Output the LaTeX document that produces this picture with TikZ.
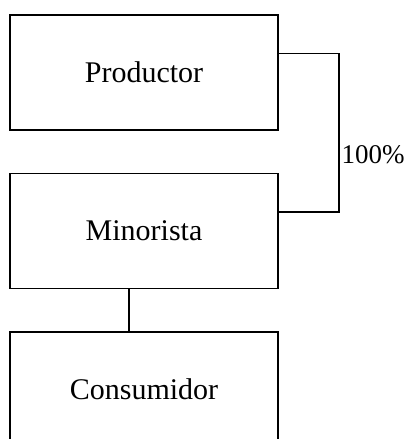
\documentclass[tikz,border=0pt]{standalone}
\usepackage{fontspec}
\setmainfont{Liberation Serif}
\usetikzlibrary{positioning}
\tikzstyle{nivel}=[draw, line width=1.6pt, minimum width=268pt,
    minimum height=115pt, text centered, font=\fontsize{30}{36}\selectfont]
\tikzstyle{enlace}=[line width=1.6pt]

\begin{document}
\begin{tikzpicture}[x=1pt, y=1pt, node distance=42pt]
    \useasboundingbox (0,0) rectangle (408,439);
    \node (prod) [nivel] at (144,366.5) {Productor};
    \node (mino) [nivel, below=of prod] {Minorista};
    \node (cons) [nivel, below=of mino] {Consumidor};
    \coordinate (prodout) at ([yshift=19pt]prod.east);
    \coordinate (minoin) at ([yshift=19pt]mino.east);
    \draw [enlace] (prodout) -- +(60,0) |- node [pos=0.32, right, inner sep=2pt] {\fontsize{27}{32}\selectfont 100\%} (minoin);
    \draw [enlace] ([xshift=-15pt]mino.south) -- ([xshift=-15pt]cons.north);
\end{tikzpicture}
\end{document}
